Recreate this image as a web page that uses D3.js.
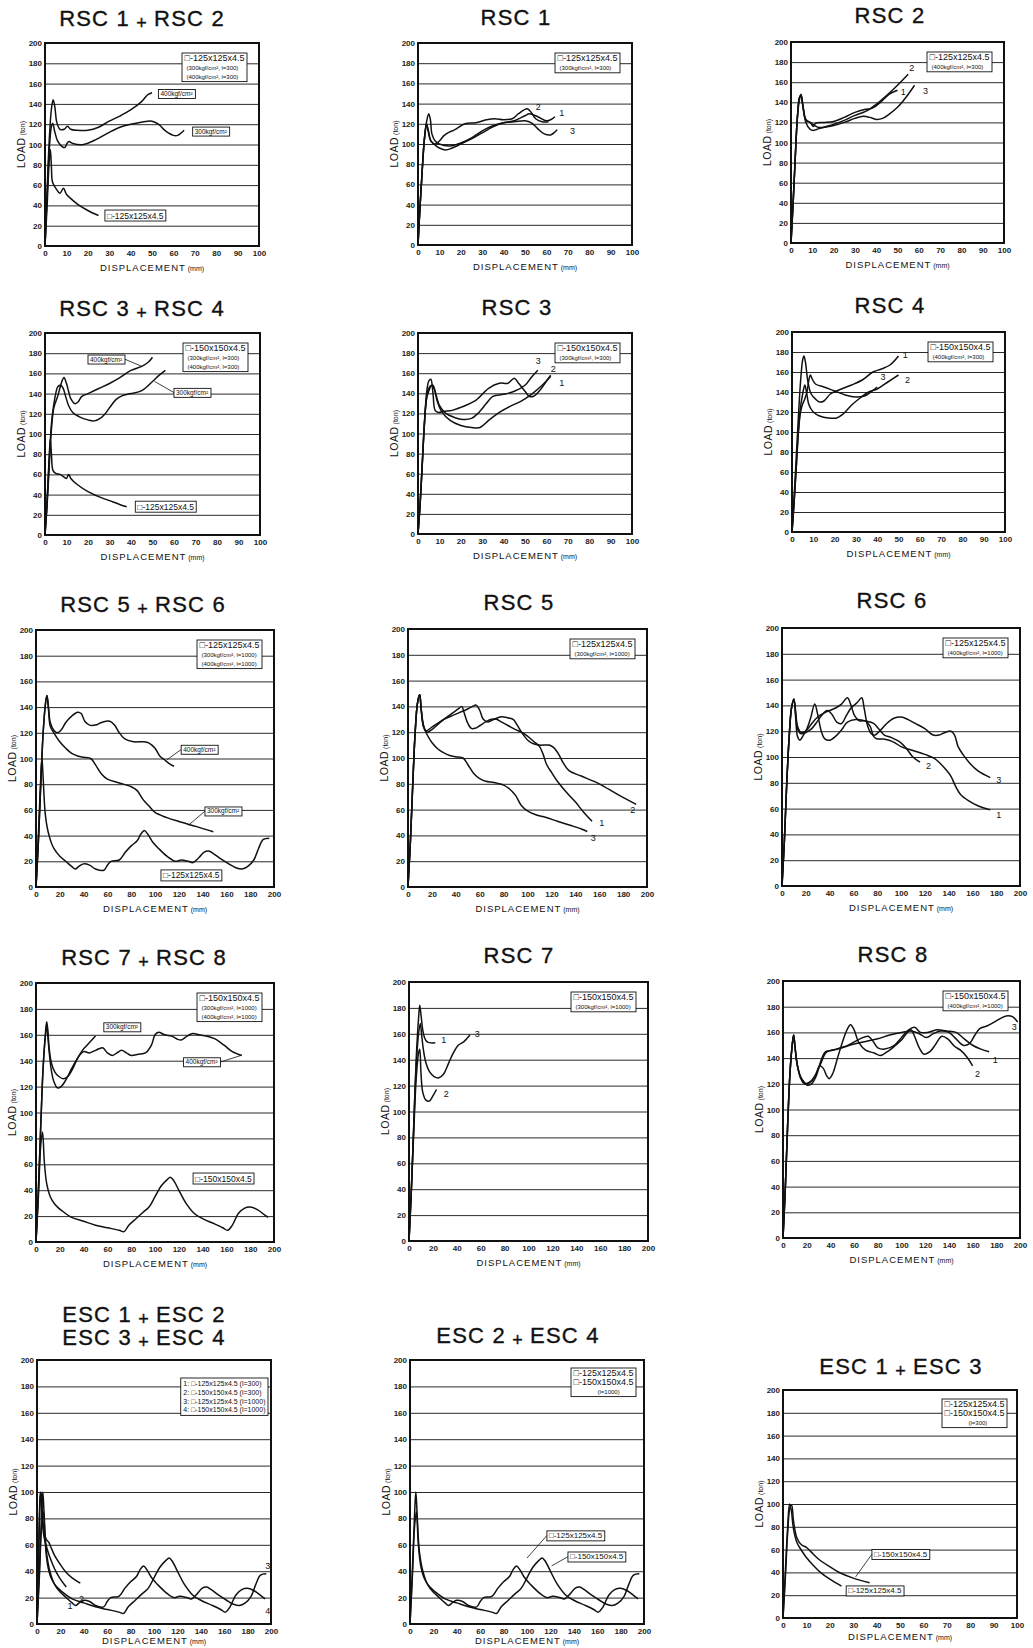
<!DOCTYPE html>
<html lang="en">
<head>
<meta charset="UTF-8">
<title>Load - displacement curves, RSC / ESC specimens</title>
<script src="https://cdn.jsdelivr.net/npm/d3@7"></script>
<style>
    html, body {
        margin: 0;
        background: #fff;
    }
    svg {
        display: block;
        font-family: "Liberation Sans", Arial, Helvetica, sans-serif;
    }
</style>
</head>
<body>
<div id="chart"></div>
<script>
// tick labels
const loadTicks = [0, 20, 40, 60, 80, 100, 120, 140, 160, 180, 200];
const dispTicks100 = [0, 10, 20, 30, 40, 50, 60, 70, 80, 90, 100];
const dispTicks200 = [0, 20, 40, 60, 80, 100, 120, 140, 160, 180, 200];

// ---- RSC 1 + RSC 2 ----
const rsc12_400 = [[0,0],[1,55],[2,105],[3,135],[3.8,144],[4.6,137],[5.5,122],[7,115],[9,115],[10.5,118],[12,115],[15,114],[20,114],[25,117],[30,123],[35,128],[40,134],[45,142],[48,149],[50,151]];
const rsc12_300 = [[0,0],[1,50],[2,95],[3,118],[3.6,121],[4.5,113],[6,103],[8,98],[9.3,97],[10.3,101],[11.2,103],[13,101],[18,100],[24,105],[30,112],[35,117],[40,120],[45,122],[50,123],[53,120],[56,114],[60,109],[62,109],[65,114]];
const hollow125_300 = [[0,0],[1,40],[2,85],[2.5,95],[3,78],[3.5,63],[5,57],[7,52],[8.6,57],[10,51],[13,45],[16,40],[20,35],[25,30]];

// ---- RSC 1 ----
const rsc1_1 = [[0,0],[1,40],[2,75],[3,105],[4,122],[5,130],[5.8,124],[6.5,110],[8,103],[10,100],[15,98],[20,101],[25,106],[30,113],[35,118],[40,121],[45,123],[50,128],[52,130],[56,127],[60,123],[62,124],[64,127]];
const rsc1_2 = [[0,0],[1,40],[2,75],[3,105],[4,120],[4.8,112],[6,103],[8,100],[10,103],[12,108],[14,111],[17,114],[22,120],[27,121],[32,124],[36,125],[40,124],[44,125],[47,130],[51,135],[53,131],[55,125],[58,122],[61,122]];
const rsc1_3 = [[0,0],[1,40],[2,75],[3,105],[4,119],[5,112],[6,103],[8,99],[10,96],[13,94],[16,96],[20,100],[25,105],[30,111],[35,117],[40,121],[45,122],[50,123],[53,121],[56,115],[59,110],[62,109],[65,114]];

// ---- RSC 2 ----
const rsc2_1 = [[0,0],[1,40],[2,85],[3,125],[4,145],[4.7,147],[5.5,137],[7,122],[9,120],[10.5,116],[11.5,119],[15,120],[20,121],[25,125],[30,130],[35,133],[38,134],[42,140],[46,148],[50,152]];
const rsc2_2 = [[0,0],[1,40],[2,85],[3,125],[4,143],[4.7,148],[5.5,138],[7,120],[9,113],[10.5,112],[12,113],[15,115],[20,118],[25,122],[30,127],[35,131],[40,138],[45,147],[50,157],[55,168]];
const rsc2_3 = [[0,0],[1,40],[2,85],[3,125],[4,145],[4.7,146],[5.5,138],[7,123],[9,120],[11,117],[13,115],[15,115],[20,117],[25,120],[30,124],[34,126],[37,125],[40,123],[43,124],[46,128],[50,135],[54,145],[58,157]];

// ---- RSC 3 + RSC 4 ----
const rsc34_400 = [[0,0],[1,30],[2,70],[3,105],[4,125],[5,132],[6,138],[7,146],[8,153],[8.8,156],[10,150],[11,142],[12,135],[14,130],[15.5,132],[17,137],[20,140],[25,145],[30,150],[35,156],[40,163],[45,167],[48,171],[50,176]];
const rsc34_300 = [[0,0],[1,35],[2,75],[3,110],[4,128],[5,140],[6,147],[7.5,148],[8.5,145],[9.5,138],[11,128],[13,121],[16,117],[20,114],[23,113],[26,116],[28,120],[30,126],[33,134],[36,138],[40,140],[45,143],[50,152],[53,158],[56,163]];
const hollow125_300b = [[0,0],[1,35],[2,80],[2.5,95],[3,80],[3.7,64],[5,61],[7,60],[9,57],[10,56],[11,60],[12,56],[15,50],[20,43],[25,38],[30,34],[35,30],[38,28]];

// ---- RSC 3 ----
const rsc3_1 = [[0,0],[1,30],[2,70],[3,110],[4,135],[5,145],[6.5,148],[7.5,145],[9,132],[11,122],[15,113],[20,108],[25,106],[29,106],[33,113],[38,121],[43,127],[48,132],[53,139],[58,148],[62,157]];
const rsc3_2 = [[0,0],[1,30],[2,70],[3,110],[4,140],[5,152],[6,154],[7,140],[8,123],[9.5,121],[12,122],[16,123],[20,126],[27,133],[33,145],[38,150],[42,150],[45,155],[47,150],[50,142],[52,137],[54,137],[57,143],[60,152],[62,158]];
const rsc3_3 = [[0,0],[1,30],[2,70],[3,110],[4,135],[5,142],[6,147],[7,148],[8,142],[10,128],[13,120],[17,116],[21,114],[25,115],[28,120],[32,130],[35,137],[40,139],[45,142],[50,148],[53,156],[56,163]];

// ---- RSC 4 ----
const rsc4_1 = [[0,0],[1,35],[2,75],[3,115],[4,150],[5,172],[5.6,176],[6.3,170],[7.5,150],[9,138],[11,133],[13,130],[15,131],[18,138],[22,142],[28,147],[33,152],[38,160],[42,163],[46,167],[50,176]];
const rsc4_2 = [[0,0],[1,30],[2,65],[3,100],[4,125],[5,138],[6,147],[6.8,140],[8,127],[10,120],[13,116],[17,114],[21,114],[24,118],[28,127],[32,134],[36,140],[40,143],[45,150],[50,157]];
const rsc4_3 = [[0,0],[1,30],[2,65],[3,100],[4,120],[5,128],[6,133],[7,140],[8,153],[8.6,157],[9.5,153],[11,148],[15,145],[20,141],[25,137],[30,135],[34,136],[37,140],[40,145]];

// ---- RSC 5 + RSC 6 ----
const rsc56_400 = [[0,0],[2,35],[4,80],[6,120],[8,143],[9.2,149],[10.5,140],[12,128],[15,122],[18,120],[21,122],[25,128],[30,133],[35,136],[38,135],[41,129],[45,126],[50,126],[55,128],[62,129],[66,126],[70,120],[75,115],[82,113],[90,113],[95,112],[100,108],[104,102],[108,99],[112,96],[116,94]];
const rsc56_300 = [[0,0],[2,35],[4,80],[6,120],[8,143],[9.2,149],[10.5,138],[12,125],[15,120],[20,113],[25,108],[30,104],[35,102],[40,101],[46,100],[50,95],[55,88],[60,84],[70,81],[80,78],[85,75],[90,68],[95,63],[100,58],[110,54],[120,51],[135,47],[149,43]];
const hollow125_1000 = [[0,0],[2,40],[4,85],[5,100],[6,85],[8,55],[11,40],[15,30],[20,24],[25,20],[30,16],[33,14],[36,16],[40,18],[45,17],[50,14],[57,13],[60,17],[63,20],[70,21],[75,27],[80,32],[85,36],[88,41],[91,44],[94,41],[98,35],[103,30],[110,24],[117,20],[122,21],[128,20],[132,19],[137,23],[141,27],[145,28],[149,26],[155,22],[162,18],[168,15],[173,14],[178,16],[183,21],[187,30],[191,37],[196,38]];

// ---- RSC 5 ----
const rsc5_1 = [[0,0],[2,35],[4,80],[6,120],[8,143],[9.8,149],[11,138],[13,125],[15,121],[20,124],[25,127],[30,130],[36,134],[42,138],[45,140],[47,135],[50,127],[53,123],[56,123],[60,125],[65,128],[70,130],[74,130],[78,128],[84,125],[90,122],[95,120],[100,117],[105,113],[110,109],[113,103],[116,95],[120,89],[125,82],[132,74],[140,66],[147,58],[154,51]];
const rsc5_2 = [[0,0],[2,35],[4,80],[6,120],[8,143],[9.8,149],[11,138],[13,124],[16,120],[20,122],[25,126],[30,130],[35,132],[40,134],[45,136],[50,138],[54,140],[57,141],[60,137],[63,130],[67,128],[72,130],[78,132],[84,131],[88,130],[91,126],[95,120],[100,114],[105,111],[110,110],[118,110],[122,108],[126,103],[130,96],[135,90],[145,86],[160,80],[175,72],[191,64]];
const rsc5_3 = [[0,0],[2,35],[4,80],[6,120],[8,143],[9.8,149],[11,138],[13,125],[16,118],[20,112],[25,107],[30,104],[35,102],[40,101],[46,100],[50,95],[55,88],[60,84],[65,82],[72,81],[80,79],[85,76],[90,71],[95,63],[100,59],[107,56],[115,54],[125,51],[135,48],[145,45],[150,43]];

// ---- RSC 6 ----
const rsc6_1 = [[0,0],[2,35],[4,80],[6,115],[8,138],[10,145],[11.5,135],[13,124],[16,119],[20,120],[25,126],[30,131],[35,134],[40,136],[45,138],[50,141],[55,146],[58,140],[61,132],[65,128],[70,128],[74,124],[77,116],[80,114],[85,114],[90,113],[95,111],[100,108],[110,105],[120,102],[128,99],[133,95],[138,90],[142,85],[146,77],[150,71],[157,66],[165,62],[175,59]];
const rsc6_2 = [[0,0],[2,35],[4,80],[6,115],[8,138],[10,145],[11.5,130],[13,116],[15,113],[18,117],[21,122],[24,130],[27.5,141],[30,133],[33,120],[36,114],[40,113],[45,116],[50,121],[55,127],[62,129],[70,128],[77,126],[82,121],[86,117],[92,115],[100,111],[105,106],[110,100],[116,96]];
const rsc6_3 = [[0,0],[2,35],[4,80],[6,115],[8,138],[10,144],[11.5,133],[13,122],[16,118],[20,119],[25,122],[30,128],[34,133],[38,136],[42,133],[46,127],[50,126],[54,132],[58,138],[63,142],[67,146],[69,138],[72,124],[75,118],[78,117],[83,121],[88,126],[94,130],[100,131],[106,129],[112,126],[120,122],[127,117],[132,117],[137,119],[142,120],[145,117],[148,108],[152,102],[158,95],[165,89],[175,84]];

// ---- RSC 7 + RSC 8 ----
const rsc78_300 = [[0,0],[2,40],[4,90],[6,135],[8,162],[9,170],[10,163],[11,150],[13,138],[16,131],[19,128],[23,126],[27,128],[31,134],[35,142],[39,148],[44,153],[50,159]];
const rsc78_400 = [[0,0],[2,40],[4,90],[6,135],[8,160],[9,168],[10,158],[11.5,143],[13,132],[15,124],[18,119],[21,120],[25,125],[30,134],[35,142],[40,147],[45,146],[50,148],[56,150],[60,146],[64,144],[68,146],[72,148],[76,146],[80,144],[86,145],[92,146],[97,152],[100,160],[103,162],[108,160],[114,159],[118,157],[122,156],[127,159],[132,161],[137,160],[143,159],[150,157],[158,152],[165,147],[173,144]];
const hollow150_1000 = [[0,0],[2,35],[4,75],[5.5,85],[7,62],[9,45],[12,35],[16,29],[22,24],[30,19],[40,16],[50,13],[60,11],[70,9],[74,8],[78,13],[84,18],[90,23],[95,27],[100,35],[105,43],[110,48],[113,50],[116,47],[120,40],[126,30],[133,22],[140,18],[150,14],[157,11],[161,9],[165,13],[170,22],[175,26],[180,27],[186,25],[192,21],[195,19]];

// ---- RSC 7 ----
const rsc7_1 = [[0,0],[2,40],[4,90],[6,140],[8,172],[9,182],[10,175],[11.5,163],[13,157],[15,154],[18,153],[22,153]];
const rsc7_2 = [[0,0],[2,40],[4,85],[6,125],[8,145],[9,148],[10,130],[11.5,115],[14,109],[17,108],[20,112],[23,117]];
const rsc7_3 = [[0,0],[2,40],[4,90],[6,135],[8,160],[9.5,168],[10.5,160],[12,148],[14,138],[17,131],[21,127],[25,126],[29,129],[33,137],[37,145],[41,151],[46,154],[51,159]];

// ---- RSC 8 ----
const rsc8_1 = [[0,0],[2,40],[4,90],[6,130],[8,152],[9,158],[10,150],[12,135],[15,125],[18,121],[20,120],[24,122],[28,128],[32,136],[36,144],[40,146],[45,147],[55,150],[65,155],[72,157],[76,153],[80,148],[86,147],[94,150],[100,156],[106,162],[111,164],[116,160],[122,160],[130,162],[138,161],[146,160],[153,155],[160,150],[167,147],[174,145]];
const rsc8_2 = [[0,0],[2,40],[4,90],[6,130],[8,152],[9,158],[10,150],[12,135],[15,124],[18,120],[22,121],[27,126],[31,134],[34,132],[37,126],[39,124],[42,128],[46,140],[50,152],[54,162],[57,166],[60,162],[64,152],[70,146],[77,144],[82,142],[88,145],[95,150],[100,154],[105,160],[108,162],[111,157],[115,148],[119,143],[124,145],[129,151],[134,157],[139,155],[145,149],[150,146],[155,141],[160,134]];
const rsc8_3 = [[0,0],[2,40],[4,90],[6,130],[8,152],[9,158],[10,150],[12,135],[15,125],[18,121],[20,119],[24,120],[28,126],[32,138],[36,145],[42,146],[50,148],[60,151],[70,153],[80,155],[90,158],[100,160],[108,161],[115,159],[121,156],[127,159],[133,161],[140,160],[146,155],[152,150],[157,151],[162,158],[166,163],[172,165],[180,169],[186,172],[190,173],[194,172],[198,168]];

// ---- ESC (short columns, l=300) ----
const esc125_300 = [[0,0],[1,40],[2,80],[2.8,100],[3.5,95],[4.5,78],[6,66],[8,59],[10,53],[13,46],[16,40],[20,34],[25,28]];
const esc150_300 = [[0,0],[1,35],[2,75],[3,97],[3.7,99],[4.5,85],[6,70],[8,64],[10,62],[12,58],[15,52],[20,45],[25,39],[30,35],[37,31]];

const panels = [
    { title: ["RSC 1 + RSC 2"], tx: 142, ty: 26, left: 45, top: 43, right: 259, bottom: 246, xMax: 100,
      legend: [["□-125x125x4.5", 9], ["(300kgf/cm², l=300)", 6, 2], ["(400kgf/cm², l=300)", 6, 2]],
      series: [rsc12_400, rsc12_300, hollow125_300],
      tags: [{ t: "400kgf/cm²", x: 53, y: 150, fs: 6.5 }, { t: "300kgf/cm²", x: 69, y: 113, fs: 6.5 }, { t: "□-125x125x4.5", x: 28, y: 30, fs: 8.5 }] },
    { title: ["RSC 1"], tx: 516, ty: 25, left: 418, top: 43, right: 632, bottom: 245, xMax: 100,
      legend: [["□-125x125x4.5", 9], ["(300kgf/cm², l=300)", 6, 2]],
      series: [rsc1_1, rsc1_2, rsc1_3],
      marks: [["2", 55, 137], ["1", 66, 131], ["3", 71, 113]] },
    { title: ["RSC 2"], tx: 890, ty: 23, left: 791, top: 42, right: 1004, bottom: 243, xMax: 100,
      legend: [["□-125x125x4.5", 9], ["(400kgf/cm², l=300)", 6, 2]],
      series: [rsc2_1, rsc2_2, rsc2_3],
      marks: [["2", 55.5, 174], ["1", 51.5, 150], ["3", 62, 151]] },
    { title: ["RSC 3 + RSC 4"], tx: 142, ty: 316, left: 45, top: 333, right: 260, bottom: 535, xMax: 100,
      legend: [["□-150x150x4.5", 9], ["(300kgf/cm², l=300)", 6, 2], ["(400kgf/cm², l=300)", 6, 2]],
      series: [rsc34_400, rsc34_300, hollow125_300b],
      tags: [{ t: "400kgf/cm²", x: 20, y: 174, fs: 6.5, leader: [45, 167] }, { t: "300kgf/cm²", x: 60, y: 141, fs: 6.5, leader: [51, 152] }, { t: "□-125x125x4.5", x: 42, y: 28, fs: 8.5 }] },
    { title: ["RSC 3"], tx: 517, ty: 315, left: 418, top: 333, right: 632, bottom: 534, xMax: 100,
      legend: [["□-150x150x4.5", 9], ["(300kgf/cm², l=300)", 6, 2]],
      series: [rsc3_1, rsc3_2, rsc3_3],
      marks: [["3", 55, 172], ["2", 62, 164], ["1", 66, 150]] },
    { title: ["RSC 4"], tx: 890, ty: 313, left: 792, top: 332, right: 1005, bottom: 532, xMax: 100,
      legend: [["□-150x150x4.5", 9], ["(400kgf/cm², l=300)", 6, 2]],
      series: [rsc4_1, rsc4_2, rsc4_3],
      marks: [["1", 52, 177], ["3", 41.5, 155], ["2", 53, 152]] },
    { title: ["RSC 5 + RSC 6"], tx: 143, ty: 612, left: 36, top: 630, right: 274, bottom: 887, xMax: 200,
      legend: [["□-125x125x4.5", 9], ["(300kgf/cm², l=1000)", 6, 2], ["(400kgf/cm², l=1000)", 6, 2]],
      series: [rsc56_400, rsc56_300, hollow125_1000],
      tags: [{ t: "400kgf/cm²", x: 122, y: 107, fs: 6.5, leader: [110, 99] }, { t: "300kgf/cm²", x: 142, y: 59, fs: 6.5, leader: [128, 48] }, { t: "□-125x125x4.5", x: 105, y: 9, fs: 8.5 }] },
    { title: ["RSC 5"], tx: 519, ty: 610, left: 408, top: 629, right: 647, bottom: 887, xMax: 200,
      legend: [["□-125x125x4.5", 9], ["(300kgf/cm², l=1000)", 6, 2]],
      series: [rsc5_1, rsc5_2, rsc5_3],
      marks: [["1", 160, 50], ["2", 186, 60], ["3", 153, 38]] },
    { title: ["RSC 6"], tx: 892, ty: 608, left: 782, top: 628, right: 1020, bottom: 886, xMax: 200,
      legend: [["□-125x125x4.5", 9], ["(400kgf/cm², l=1000)", 6, 2]],
      series: [rsc6_1, rsc6_2, rsc6_3],
      marks: [["2", 121, 93], ["1", 180, 55], ["3", 180, 82]] },
    { title: ["RSC 7 + RSC 8"], tx: 144, ty: 965, left: 36, top: 983, right: 274, bottom: 1242, xMax: 200,
      legend: [["□-150x150x4.5", 9], ["(300kgf/cm², l=1000)", 6, 2], ["(400kgf/cm², l=1000)", 6, 2]],
      series: [rsc78_300, rsc78_400, hollow150_1000],
      tags: [{ t: "300kgf/cm²", x: 57, y: 166, fs: 6.5 }, { t: "400kgf/cm²", x: 124, y: 139, fs: 6.5, leader: [172, 144] }, { t: "□-150x150x4.5", x: 132, y: 49, fs: 8.5 }] },
    { title: ["RSC 7"], tx: 519, ty: 963, left: 409, top: 982, right: 648, bottom: 1241, xMax: 200,
      legend: [["□-150x150x4.5", 9], ["(300kgf/cm², l=1000)", 6, 2]],
      series: [rsc7_1, rsc7_2, rsc7_3],
      marks: [["1", 27, 155], ["3", 55, 160], ["2", 29, 114]] },
    { title: ["RSC 8"], tx: 893, ty: 962, left: 783, top: 981, right: 1020, bottom: 1238, xMax: 200,
      legend: [["□-150x150x4.5", 9], ["(400kgf/cm², l=1000)", 6, 2]],
      series: [rsc8_1, rsc8_2, rsc8_3],
      marks: [["3", 193, 164], ["1", 177, 139], ["2", 162, 128]] },
    { title: ["ESC 1 + ESC 2", "ESC 3 + ESC 4"], tx: 144, ty: 1322, left: 37, top: 1360, right: 271, bottom: 1624, xMax: 200, xLabelDy: 20,
      legendDx: 3, legendDy: 18,
      legend: [["1: □-125x125x4.5 (l=300)", 7], ["2: □-150x150x4.5 (l=300)", 7], ["3: □-125x125x4.5 (l=1000)", 7], ["4: □-150x150x4.5 (l=1000)", 7]],
      series: [esc125_300, esc150_300, hollow125_1000, hollow150_1000],
      marks: [["1", 26, 14], ["2", 36, 19], ["3", 195, 44], ["4", 195, 10]] },
    { title: ["ESC 2 + ESC 4"], tx: 518, ty: 1343, left: 410, top: 1360, right: 644, bottom: 1624, xMax: 200, xLabelDy: 20,
      legendDx: 8, legendDy: 8,
      legend: [["□-125x125x4.5", 9], ["□-150x150x4.5", 9], ["(l=1000)", 6, 24]],
      series: [hollow125_1000, hollow150_1000],
      tags: [{ t: "□-125x125x4.5", x: 117, y: 67, fs: 8, leader: [100, 50] }, { t: "□-150x150x4.5", x: 135, y: 51, fs: 8, leader: [121, 44] }] },
    { title: ["ESC 1 + ESC 3"], tx: 901, ty: 1374, left: 783, top: 1390, right: 1017, bottom: 1618, xMax: 100, xLabelDy: 22,
      legendDx: 10, legendDy: 9,
      legend: [["□-125x125x4.5", 9], ["□-150x150x4.5", 9], ["(l=300)", 6, 24]],
      series: [esc125_300, esc150_300],
      tags: [{ t: "□-150x150x4.5", x: 38, y: 56, fs: 8, leader: [31, 36] }, { t: "□-125x125x4.5", x: 27, y: 24, fs: 8 }] }
];

const svg = d3.select("#chart").append("svg")
    .attr("width", 1033)
    .attr("height", 1648)
    .attr("viewBox", [0, 0, 1033, 1648]);

panels.forEach(drawPanel);

function drawPanel(p) {
    const g = svg.append("g");
    const x = d3.scaleLinear().domain([0, p.xMax]).range([p.left, p.right]);
    const y = d3.scaleLinear().domain([0, 200]).range([p.bottom, p.top]);
    const w = p.right - p.left;

    // title, the "+" is set smaller and a bit low like the original lettering
    p.title.forEach((t, i) => {
        const txt = g.append("text")
            .attr("x", p.tx)
            .attr("y", p.ty + i * 23)
            .attr("text-anchor", "middle")
            .attr("font-size", 22)
            .attr("letter-spacing", 1.2)
            .attr("fill", "#111")
            .attr("stroke", "#111")
            .attr("stroke-width", 0.35);
        const parts = t.split(" + ");
        parts.forEach((part, j) => {
            if (j > 0) {
                txt.append("tspan").attr("font-size", 18).attr("dy", 3).text(" + ");
                txt.append("tspan").attr("dy", -3).text(part);
            } else {
                txt.append("tspan").text(part);
            }
        });
    });

    // horizontal grid + load labels
    const yAxis = g.append("g")
        .attr("transform", `translate(${p.left},0)`)
        .call(d3.axisLeft(y).tickValues(loadTicks).tickSize(-w).tickPadding(3));
    yAxis.attr("font-family", null).attr("font-size", null);
    yAxis.select(".domain").remove();
    yAxis.selectAll("line").attr("stroke", "#2a2a2a").attr("stroke-width", 1);
    yAxis.selectAll("text").attr("font-size", 8).attr("font-weight", "bold").attr("fill", "#222");

    // displacement labels
    const xAxis = g.append("g")
        .attr("transform", `translate(0,${p.bottom})`)
        .call(d3.axisBottom(x).tickValues(p.xMax === 100 ? dispTicks100 : dispTicks200).tickSize(0).tickPadding(4));
    xAxis.attr("font-family", null).attr("font-size", null);
    xAxis.select(".domain").remove();
    xAxis.selectAll("text").attr("font-size", 8).attr("font-weight", "bold").attr("fill", "#222");

    // frame
    g.append("rect")
        .attr("x", p.left).attr("y", p.top)
        .attr("width", w).attr("height", p.bottom - p.top)
        .attr("fill", "none")
        .attr("stroke", "#111")
        .attr("stroke-width", 2);

    // axis titles
    const yl = g.append("text")
        .attr("transform", `translate(${p.left - 20},${(p.top + p.bottom) / 2}) rotate(-90)`)
        .attr("text-anchor", "middle")
        .attr("fill", "#111");
    yl.append("tspan").attr("font-size", 10.5).attr("letter-spacing", 0.5).text("LOAD");
    yl.append("tspan").attr("font-size", 7).text(" (ton)");

    const xl = g.append("text")
        .attr("x", (p.left + p.right) / 2)
        .attr("y", p.bottom + (p.xLabelDy || 25))
        .attr("text-anchor", "middle")
        .attr("fill", "#111");
    xl.append("tspan").attr("font-size", 9.5).attr("letter-spacing", 1).text("DISPLACEMENT");
    xl.append("tspan").attr("font-size", 7).text(" (mm)");

    // curves
    const line = d3.line()
        .x(d => x(d[0]))
        .y(d => y(d[1]))
        .curve(d3.curveCatmullRom.alpha(0.5));

    g.append("g")
        .selectAll("path")
        .data(p.series)
        .join("path")
        .attr("d", line)
        .attr("fill", "none")
        .attr("stroke", "#111")
        .attr("stroke-width", 1.5)
        .attr("stroke-linejoin", "round");

    // curve numbers
    (p.marks || []).forEach(m => {
        g.append("text")
            .attr("x", x(m[1]))
            .attr("y", y(m[2]))
            .attr("dy", "0.35em")
            .attr("font-size", 9)
            .attr("fill", "#111")
            .text(m[0]);
    });

    // boxed labels on the curves
    (p.tags || []).forEach(t => {
        const tg = g.append("g");
        const tx = tg.append("text")
            .attr("x", x(t.x) + 2)
            .attr("y", y(t.y))
            .attr("dy", "0.35em")
            .attr("font-size", t.fs)
            .attr("fill", "#111")
            .text(t.t);
        const bb = tx.node().getBBox();
        tg.insert("rect", "text")
            .attr("x", bb.x - 2).attr("y", bb.y - 0.5)
            .attr("width", bb.width + 4).attr("height", bb.height + 1)
            .attr("fill", "#fff")
            .attr("stroke", "#111")
            .attr("stroke-width", 0.9);
        if (t.leader) {
            const tx2 = x(t.leader[0]);
            const lx = tx2 < bb.x ? bb.x - 2 : bb.x + bb.width + 2;
            tg.append("line")
                .attr("x1", lx).attr("y1", y(t.y))
                .attr("x2", tx2).attr("y2", y(t.leader[1]))
                .attr("stroke", "#111")
                .attr("stroke-width", 0.8);
        }
    });

    // legend box, top right
    const lg = g.append("g");
    const top = p.top + (p.legendDy || 10);
    const texts = p.legend.map((l, i) => lg.append("text")
        .attr("y", top + 8 + i * 8.8)
        .attr("font-size", l[1])
        .attr("fill", "#111")
        .text(l[0]));
    const widths = texts.map((tt, i) => tt.node().getComputedTextLength() + (p.legend[i][2] || 0));
    const bw = d3.max(widths) + 5;
    const bx = p.right - (p.legendDx || 12) - bw;
    texts.forEach((tt, i) => tt.attr("x", bx + 2.5 + (p.legend[i][2] || 0)));
    lg.insert("rect", "text")
        .attr("x", bx).attr("y", top)
        .attr("width", bw).attr("height", 8 + (p.legend.length - 1) * 8.8 + 3)
        .attr("fill", "#fff")
        .attr("stroke", "#111")
        .attr("stroke-width", 0.9);
}
</script>
</body>
</html>
